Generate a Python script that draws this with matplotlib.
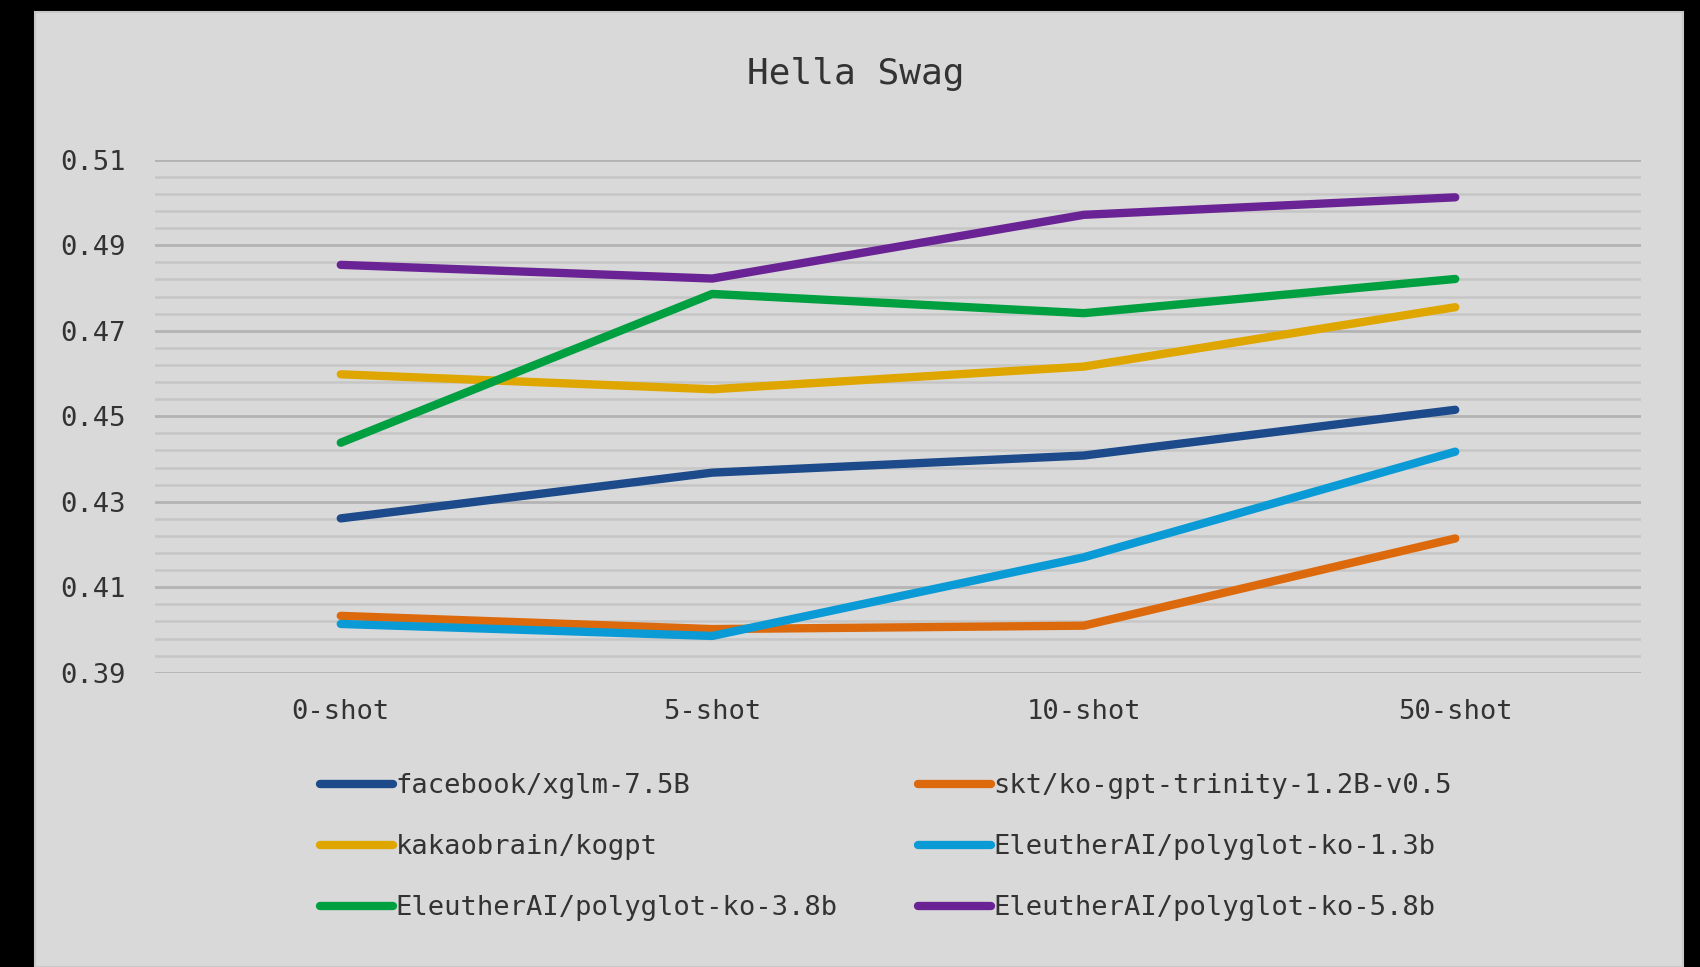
import matplotlib.pyplot as plt
from matplotlib.patches import Rectangle
from matplotlib.ticker import MultipleLocator

# Datos
shots = ['0-shot', '5-shot', '10-shot', '50-shot']
models = ['facebook/xglm-7.5B', 'skt/ko-gpt-trinity-1.2B-v0.5', 'kakaobrain/kogpt',
          'EleutherAI/polyglot-ko-1.3b', 'EleutherAI/polyglot-ko-3.8b', 'EleutherAI/polyglot-ko-5.8b']
xglm = [0.4261, 0.4368, 0.4408, 0.4515]
trinity = [0.4033, 0.4002, 0.4010, 0.4214]
kogpt = [0.4598, 0.4563, 0.4616, 0.4755]
polyglot_13 = [0.4014, 0.3986, 0.4170, 0.4417]
polyglot_38 = [0.4438, 0.4786, 0.4741, 0.4821]
polyglot_58 = [0.4854, 0.4822, 0.4971, 0.5012]
series = [xglm, trinity, kogpt, polyglot_13, polyglot_38, polyglot_58]
colors = ['#1c4a8a', '#dc6a0c', '#e0a600', '#0a9ad6', '#00a040', '#6a2394']
yticks = [0.39, 0.41, 0.43, 0.45, 0.47, 0.49, 0.51]

font = 'DejaVu Sans Mono'
text_color = '#333333'
fsize = 19.5

fig = plt.figure(figsize=(17, 9.67), dpi=100, facecolor='black')
# Panel gris de fondo
fig.patches.append(Rectangle((35 / 1700, 0), 1648 / 1700, 955 / 967, transform=fig.transFigure,
                             facecolor='#d9d9d9', edgecolor='#c8c8c8', lw=1.5, zorder=-10))

ax = fig.add_axes([155 / 1700, 294.3 / 967, 1486 / 1700, 513 / 967])
ax.set_facecolor('none')

x = range(len(shots))
lines = []
for values, color, name in zip(series, colors, models):
    line, = ax.plot(x, values, color=color, lw=6, solid_capstyle='round', label=name, zorder=3)
    lines.append(line)

ax.set_xlim(-0.5, 3.5)
ax.set_ylim(0.39, 0.51)
ax.set_yticks(yticks)
ax.set_yticklabels([f'{v:.2f}' for v in yticks])
ax.yaxis.set_minor_locator(MultipleLocator(0.004, offset=0.002))
ax.grid(axis='y', which='major', color='#b3b3b3', lw=2)
ax.grid(axis='y', which='minor', color='#c6c6c6', lw=1.8)
ax.set_axisbelow(True)
for s in ax.spines.values():
    s.set_visible(False)
ax.tick_params(which='both', length=0)
ax.tick_params(axis='y', pad=21)
ax.tick_params(axis='x', pad=19)
ax.set_xticks(list(x))
ax.set_xticklabels(shots)
for lbl in ax.get_xticklabels() + ax.get_yticklabels():
    lbl.set_fontfamily(font)
    lbl.set_fontsize(fsize)
    lbl.set_color(text_color)

fig.text(856 / 1700, 1 - 74 / 967, 'Hella Swag', ha='center', va='center',
         fontfamily=font, fontsize=26, color=text_color)

# Leyenda en dos columnas (orden por filas como en el original)
order = [0, 2, 4, 1, 3, 5]
leg = fig.legend([lines[i] for i in order], [models[i] for i in order],
                 loc='upper left', bbox_to_anchor=(320 / 1700, 1 - 773 / 967), ncol=2,
                 frameon=False, borderpad=0, borderaxespad=0, handlelength=2.7,
                 handletextpad=0.1, columnspacing=2.95, labelspacing=1.3,
                 prop={'family': font, 'size': fsize})
for t in leg.get_texts():
    t.set_color(text_color)

fig.savefig('out.png', dpi=100, facecolor='black')
